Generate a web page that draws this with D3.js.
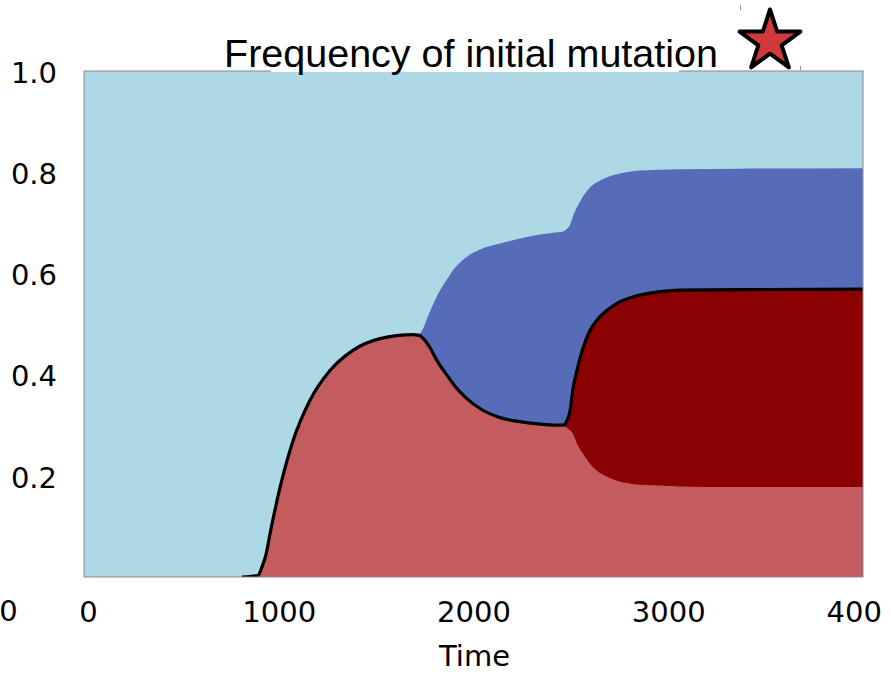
<!DOCTYPE html>
<html>
<head>
<meta charset="utf-8">
<script src="https://cdn.jsdelivr.net/npm/d3@7"></script>
<style>
  html, body { margin: 0; padding: 0; background: #fff; }
  svg { display: block; overflow: hidden; }
</style>
</head>
<body>
<div id="chart"></div>
<script>
// Muller-style clone frequencies over time
const timeSteps = [0, 811, 893, 914, 935, 955, 1006, 1073, 1160, 1263, 1381, 1520, 1689,
  1715, 1736, 1756, 1777, 1802, 1828, 1854, 1880, 1905, 1956,
  2033, 2136, 2239, 2342, 2419, 2460, 2480, 2496, 2511, 2532, 2562, 2598, 2634, 2686, 2737,
  2814, 2891, 2958, 3060, 3368, 4000];

// total frequency of the initial mutation lineage (outlined in black)
const initialMutation = [0, 0, 0.003, 0.02, 0.045, 0.085, 0.176, 0.269, 0.349, 0.408, 0.448, 0.471, 0.479,
  0.478, 0.474, 0.465, 0.453, 0.435, 0.418, 0.404, 0.390, 0.377, 0.356,
  0.333, 0.315, 0.307, 0.302, 0.300, 0.300, 0.309, 0.329, 0.372, 0.410, 0.452, 0.487, 0.508, 0.527, 0.541,
  0.553, 0.560, 0.564, 0.567, 0.568, 0.569];

// upper edge of the second clone (blue band)
const secondCloneTop = [null, null, null, null, null, null, null, null, null, null, null, null, 0.478,
  0.479, 0.487, 0.505, 0.525, 0.547, 0.566, 0.583, 0.598, 0.611, 0.630,
  0.647, 0.659, 0.669, 0.677, 0.681, 0.683, 0.688, 0.696, 0.713, 0.731, 0.752, 0.770, 0.780, 0.790, 0.796,
  0.802, 0.804, 0.805, 0.806, 0.807, 0.808];

// lower edge of the nested sub-clone (dark red band)
const subcloneBase = [null, null, null, null, null, null, null, null, null, null, null, null, null,
  null, null, null, null, null, null, null, null, null, null,
  null, null, null, null, null, 0.300, 0.295, 0.290, 0.283, 0.263, 0.244, 0.224, 0.210, 0.198, 0.190,
  0.184, 0.182, 0.181, 0.179, 0.178, 0.178];

const lineStart = 811;
const yTicks = [0.2, 0.4, 0.6, 0.8, 1.0];
const xTicks = [0, 1000, 2000, 3000, 4000];

const colors = {
  background: "#add8e6",
  second: "#576cb9",
  initial: "#c45b5f",
  subclone: "#8b0000",
  star: "#d03a3a",
  frame: "#8a8a8a"
};

const rows = timeSteps.map((t, i) => ({
  t,
  top: initialMutation[i],
  second: secondCloneTop[i],
  base: subcloneBase[i]
}));

const W = 881, H = 675;
const margin = { left: 84, right: 863, top: 71, bottom: 577 };

const svg = d3.select("#chart").append("svg")
  .attr("width", W).attr("height", H);

const x = d3.scaleLinear().domain([0, 4000]).range([margin.left, margin.right]);
const y = d3.scaleLinear().domain([0, 1]).range([margin.bottom, margin.top]);

svg.append("defs").append("clipPath").attr("id", "plotClip")
  .append("rect")
  .attr("x", margin.left).attr("y", margin.top)
  .attr("width", margin.right - margin.left).attr("height", margin.bottom - margin.top);

const plot = svg.append("g").attr("clip-path", "url(#plotClip)");

// ancestral population fills the whole panel
plot.append("rect")
  .attr("x", x(0)).attr("y", y(1))
  .attr("width", x(4000) - x(0)).attr("height", y(0) - y(1))
  .attr("fill", colors.background);

const curve = d3.curveMonotoneX;

plot.append("path")
  .datum(rows.filter(d => d.second !== null))
  .attr("fill", colors.second)
  .attr("d", d3.area().curve(curve).x(d => x(d.t)).y0(y(0)).y1(d => y(d.second)));

plot.append("path")
  .datum(rows)
  .attr("fill", colors.initial)
  .attr("d", d3.area().curve(curve).x(d => x(d.t)).y0(y(0)).y1(d => y(d.top)));

plot.append("path")
  .datum(rows.filter(d => d.base !== null))
  .attr("fill", colors.subclone)
  .attr("d", d3.area().curve(curve).x(d => x(d.t)).y0(d => y(d.base)).y1(d => y(d.top)));

// outline of the initial mutation lineage
plot.append("path")
  .datum(rows.filter(d => d.t >= lineStart))
  .attr("fill", "none")
  .attr("stroke", "#000")
  .attr("stroke-width", 3.2)
  .attr("d", d3.line().curve(curve).x(d => x(d.t)).y(d => y(d.top)));

// panel frame
svg.append("rect")
  .attr("x", margin.left).attr("y", margin.top)
  .attr("width", margin.right - margin.left).attr("height", margin.bottom - margin.top)
  .attr("fill", "none").attr("stroke", colors.frame).attr("stroke-width", 1);

// axes
const tickFont = "'DejaVu Sans', sans-serif";

const yAxis = svg.append("g")
  .attr("transform", `translate(${margin.left},0)`)
  .call(d3.axisLeft(y).tickValues(yTicks).tickFormat(d3.format(".1f")).tickSize(0).tickPadding(27));
yAxis.select(".domain").remove();
yAxis.selectAll("text")
  .attr("dy", "0.39em")
  .style("font-family", tickFont).style("font-size", "29px").attr("fill", "#000");

const xAxis = svg.append("g")
  .attr("transform", `translate(0,${margin.bottom})`)
  .call(d3.axisBottom(x).tickValues(xTicks).tickFormat(d3.format("d")).tickSize(0).tickPadding(24));
xAxis.select(".domain").remove();
xAxis.selectAll("text")
  .style("font-family", tickFont).style("font-size", "29px").attr("fill", "#000");
xAxis.selectAll(".tick").filter(d => d === 0).select("text").attr("x", 4);

svg.append("text")
  .attr("x", 8.5).attr("y", 621)
  .attr("text-anchor", "middle")
  .style("font-family", tickFont).style("font-size", "29px")
  .text("0");

svg.append("text")
  .attr("x", (margin.left + margin.right) / 2 + 1).attr("y", 666)
  .attr("text-anchor", "middle")
  .style("font-family", tickFont).style("font-size", "29px")
  .text("Time");

// legend-style title with star marker
svg.append("rect")
  .attr("x", 271).attr("y", 58).attr("width", 408).attr("height", 14)
  .attr("fill", "#fff");

svg.append("text")
  .attr("x", 224).attr("y", 67)
  .style("font-family", "'Liberation Sans', Arial, sans-serif").style("font-size", "39.5px")
  .text("Frequency of initial mutation");

svg.append("line").attr("x1", 740.5).attr("x2", 740.5).attr("y1", 5).attr("y2", 10)
  .attr("stroke", "#999").attr("stroke-width", 1);
svg.append("line").attr("x1", 800.5).attr("x2", 800.5).attr("y1", 66).attr("y2", 71)
  .attr("stroke", "#999").attr("stroke-width", 1);

svg.append("path")
  .attr("transform", "translate(770,41.5)")
  .attr("d", d3.symbol(d3.symbolStar, 1150)())
  .attr("fill", colors.star)
  .attr("stroke", "#000")
  .attr("stroke-width", 4)
  .attr("stroke-linejoin", "round");
</script>
</body>
</html>
